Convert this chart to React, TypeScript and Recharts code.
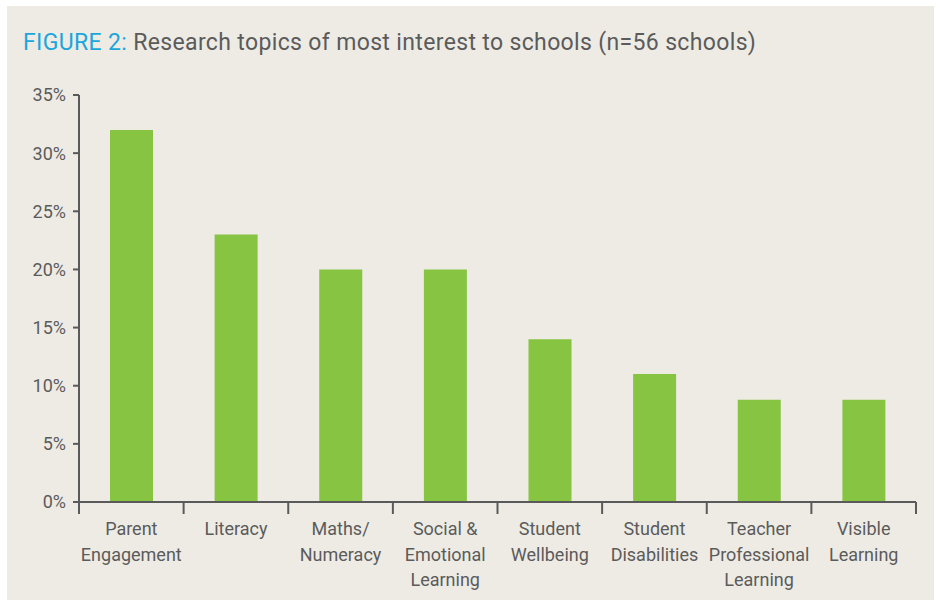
import React from 'react';
import { BarChart, Bar, XAxis, YAxis } from 'recharts';

const topics = [
  'Parent Engagement',
  'Literacy',
  'Maths/ Numeracy',
  'Social & Emotional Learning',
  'Student Wellbeing',
  'Student Disabilities',
  'Teacher Professional Learning',
  'Visible Learning',
];
const topicLines = [
  ['Parent', 'Engagement'],
  ['Literacy'],
  ['Maths/', 'Numeracy'],
  ['Social &', 'Emotional', 'Learning'],
  ['Student', 'Wellbeing'],
  ['Student', 'Disabilities'],
  ['Teacher', 'Professional', 'Learning'],
  ['Visible', 'Learning'],
];
const shares = [32, 23, 20, 20, 14, 11, 8.8, 8.8];
const yTicks = [0, 5, 10, 15, 20, 25, 30, 35];
const boundaryTicks = [0, 1, 2, 3, 4, 5, 6, 7, 8];

const data = topics.map((topic, i) => ({ topic, idx: i, share: shares[i] }));

const FONT = 'Roboto, "DejaVu Sans", sans-serif';
const TEXT = '#5b5b5b';
const AXIS = '#5a5a5a';

const TopicTick = (props: any) => {
  const { x, y, index } = props;
  const lines = topicLines[index] || [props.payload.value];
  return (
    <text x={x} y={y} textAnchor="middle" fill={TEXT} fontSize={18} fontFamily={FONT}>
      {lines.map((line, i) => (
        <tspan key={i} x={x} dy={i === 0 ? 24 : 25.5}>
          {line}
        </tspan>
      ))}
    </text>
  );
};

export default function App() {
  return (
    <div style={{ position: 'absolute', left: 0, top: 0, width: 941, height: 601, background: '#ffffff' }}>
      <div
        style={{
          position: 'absolute',
          left: 7,
          top: 6,
          width: 927,
          height: 594,
          background: '#eeebe5',
        }}
      />
      <div
        style={{
          position: 'absolute',
          left: 23,
          top: 29,
          fontFamily: FONT,
          fontSize: 23,
          letterSpacing: 0.35,
          color: TEXT,
          whiteSpace: 'nowrap',
          lineHeight: '27px',
        }}
      >
        <span style={{ color: '#1ba6dc' }}>FIGURE 2:</span> Research topics of most interest to schools (n=56 schools)
      </div>
      <div style={{ position: 'absolute', left: 0, top: 80 }}>
        <BarChart
          width={941}
          height={520}
          data={data}
          margin={{ top: 15, right: 25, bottom: 8, left: 19 }}
          barSize={43}
        >
          {/* boundary ticks between categories, sits right on the plot edge */}
          <XAxis
            dataKey="idx"
            type="number"
            domain={[0, 8]}
            ticks={boundaryTicks}
            height={1}
            axisLine={{ stroke: AXIS, strokeWidth: 2 }}
            tickLine={{ stroke: AXIS, strokeWidth: 2 }}
            tickSize={12}
            tickFormatter={() => ''}
          />
          <XAxis
            xAxisId="cat"
            dataKey="topic"
            interval={0}
            height={89}
            axisLine={false}
            tickLine={false}
            tick={<TopicTick />}
          />
          <YAxis
            domain={[0, 35]}
            ticks={yTicks}
            width={60}
            axisLine={{ stroke: AXIS, strokeWidth: 2 }}
            tickLine={{ stroke: AXIS, strokeWidth: 2 }}
            tickSize={6}
            tickMargin={7}
            tickFormatter={(v: number) => `${v}%`}
            tick={{ fill: TEXT, fontSize: 18, fontFamily: FONT }}
          />
          <Bar dataKey="share" xAxisId="cat" fill="#86c442" isAnimationActive={false} />
        </BarChart>
      </div>
    </div>
  );
}
